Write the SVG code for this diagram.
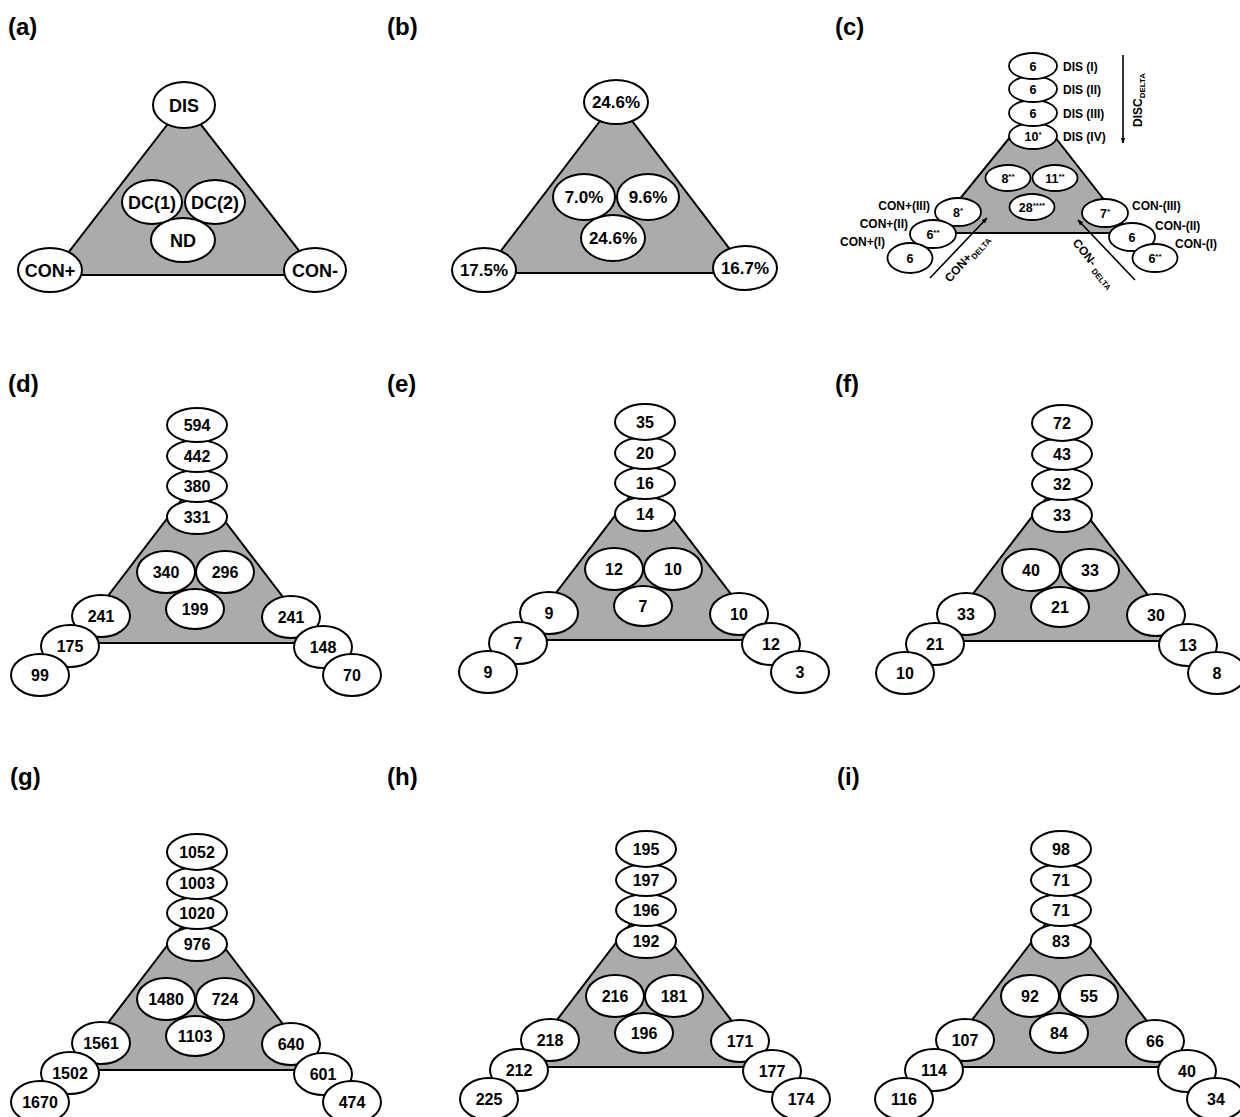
<svg xmlns="http://www.w3.org/2000/svg" width="1240" height="1117" viewBox="0 0 1240 1117">
<defs>
<style>
.tri{fill:#ababab;stroke:#000;stroke-width:2}
.n{fill:#fff;stroke:#000;stroke-width:2}
.nc{fill:#fff;stroke:#000;stroke-width:1.8}
text{font-family:"Liberation Sans",Arial,sans-serif;font-weight:bold;fill:#000}
.t{font-size:16px;text-anchor:middle}
.ta{font-size:18px;text-anchor:middle}
.tb{font-size:17px;text-anchor:middle}
.tc{font-size:12.5px;text-anchor:middle}
.cl{font-size:12px}
.cr{font-size:12px;text-anchor:end}
.lbl{font-size:24px}
.ar{stroke:#000;stroke-width:1.6;fill:none}
</style>
<marker id="ah" viewBox="0 0 10 10" refX="9" refY="5" markerWidth="6" markerHeight="6" orient="auto" markerUnits="userSpaceOnUse">
<path d="M0,1 L10,5 L0,9 z" fill="#000"/>
</marker>
</defs>
<rect width="1240" height="1117" fill="#fff"/>

<g id="labels">
<text class="lbl" x="8" y="35">(a)</text>
<text class="lbl" x="387" y="35">(b)</text>
<text class="lbl" x="835" y="35">(c)</text>
<text class="lbl" x="8" y="392">(d)</text>
<text class="lbl" x="387" y="392">(e)</text>
<text class="lbl" x="835" y="392">(f)</text>
<text class="lbl" x="10" y="785">(g)</text>
<text class="lbl" x="387" y="785">(h)</text>
<text class="lbl" x="837" y="785">(i)</text>
</g>

<!-- Panel a -->
<g id="panel-a">
<polygon class="tri" points="184,103 51,275 318,275"/>
<g id="a-nd"><ellipse class="n" cx="183" cy="240" rx="32" ry="22"/><text class="ta" x="183" y="246.5">ND</text></g>
<g id="a-dc1"><ellipse class="n" cx="152" cy="202" rx="30" ry="22"/><text class="ta" x="152" y="208.5">DC(1)</text></g>
<g id="a-dc2"><ellipse class="n" cx="215" cy="202" rx="30" ry="22"/><text class="ta" x="215" y="208.5">DC(2)</text></g>
<g id="a-dis"><ellipse class="n" cx="184" cy="105" rx="31" ry="23"/><text class="ta" x="184" y="111.5">DIS</text></g>
<g id="a-conp"><ellipse class="n" cx="50" cy="270" rx="32" ry="22"/><text class="ta" x="50" y="276.5">CON+</text></g>
<g id="a-conm"><ellipse class="n" cx="315" cy="270" rx="31" ry="22"/><text class="ta" x="315" y="276.5">CON-</text></g>
</g>

<!-- Panel b -->
<g id="panel-b">
<polygon class="tri" points="616,100 484,273 748,273"/>
<g id="b-nd"><ellipse class="n" cx="613" cy="238" rx="32" ry="23"/><text class="tb" x="613" y="244">24.6%</text></g>
<g id="b-dc1"><ellipse class="n" cx="584" cy="197" rx="31" ry="23"/><text class="tb" x="584" y="203">7.0%</text></g>
<g id="b-dc2"><ellipse class="n" cx="648" cy="197" rx="31" ry="23"/><text class="tb" x="648" y="203">9.6%</text></g>
<g id="b-dis"><ellipse class="n" cx="616" cy="102" rx="32" ry="22"/><text class="tb" x="616" y="108">24.6%</text></g>
<g id="b-conp"><ellipse class="n" cx="484" cy="270" rx="32" ry="22"/><text class="tb" x="484" y="276">17.5%</text></g>
<g id="b-conm"><ellipse class="n" cx="745" cy="268" rx="32" ry="22"/><text class="tb" x="745" y="274">16.7%</text></g>
</g>

<!-- Panel c -->
<g id="panel-c">
<polygon class="tri" points="1033,109 932,233 1130,233"/>
<g id="c-nd"><ellipse class="nc" cx="1032" cy="207" rx="22.5" ry="13"/><text class="tc" x="1032" y="211.5">28<tspan font-size="8" dy="-4">****</tspan></text></g>
<g id="c-dc1"><ellipse class="nc" cx="1008" cy="178" rx="22.5" ry="13"/><text class="tc" x="1008" y="182.5">8<tspan font-size="8" dy="-4">**</tspan></text></g>
<g id="c-dc2"><ellipse class="nc" cx="1055" cy="178" rx="22.5" ry="13"/><text class="tc" x="1055" y="182.5">11<tspan font-size="8" dy="-4">**</tspan></text></g>
<g id="c-dis4"><ellipse class="nc" cx="1033" cy="136" rx="24" ry="13"/><text class="tc" x="1033" y="140.5">10<tspan font-size="8" dy="-4">*</tspan></text></g>
<g id="c-dis3"><ellipse class="nc" cx="1033" cy="113" rx="24" ry="13"/><text class="tc" x="1033" y="117.5">6</text></g>
<g id="c-dis2"><ellipse class="nc" cx="1033" cy="89" rx="24" ry="13"/><text class="tc" x="1033" y="93.5">6</text></g>
<g id="c-dis1"><ellipse class="nc" cx="1033" cy="66" rx="24" ry="13"/><text class="tc" x="1033" y="70.5">6</text></g>
<g id="c-conp3"><ellipse class="nc" cx="958" cy="212" rx="23" ry="14"/><text class="tc" x="958" y="216.5">8<tspan font-size="8" dy="-4">*</tspan></text></g>
<g id="c-conp2"><ellipse class="nc" cx="933" cy="234" rx="23" ry="14"/><text class="tc" x="933" y="238.5">6<tspan font-size="8" dy="-4">**</tspan></text></g>
<g id="c-conp1"><ellipse class="nc" cx="910" cy="258" rx="22.5" ry="15"/><text class="tc" x="910" y="262.5">6</text></g>
<g id="c-conm3"><ellipse class="nc" cx="1105" cy="213" rx="23" ry="14"/><text class="tc" x="1105" y="217.5">7<tspan font-size="8" dy="-4">*</tspan></text></g>
<g id="c-conm2"><ellipse class="nc" cx="1132" cy="237" rx="23" ry="14"/><text class="tc" x="1132" y="241.5">6</text></g>
<g id="c-conm1"><ellipse class="nc" cx="1155" cy="258" rx="22.5" ry="14"/><text class="tc" x="1155" y="262.5">6<tspan font-size="8" dy="-4">**</tspan></text></g>
<text class="cl" x="1063" y="71">DIS (I)</text>
<text class="cl" x="1063" y="94">DIS (II)</text>
<text class="cl" x="1063" y="118">DIS (III)</text>
<text class="cl" x="1063" y="141">DIS (IV)</text>
<text class="cr" x="930" y="210">CON+(III)</text>
<text class="cr" x="908" y="228">CON+(II)</text>
<text class="cr" x="885" y="246">CON+(I)</text>
<text class="cl" x="1132" y="210">CON-(III)</text>
<text class="cl" x="1155" y="230">CON-(II)</text>
<text class="cl" x="1175" y="248">CON-(I)</text>
<text class="cl" x="1142" y="127" transform="rotate(-90 1142 127)">DISC<tspan font-size="8" dy="3">DELTA</tspan></text>
<text class="cl" x="950" y="283" transform="rotate(-48 950 283)">CON+<tspan font-size="8" dy="3">DELTA</tspan></text>
<text class="cl" x="1072" y="243" transform="rotate(51 1072 243)">CON- <tspan font-size="8" dy="3">DELTA</tspan></text>
</g>

<g id="connectors">
<line class="ar" x1="1123" y1="55" x2="1123" y2="143" marker-end="url(#ah)"/>
<line class="ar" x1="930" y1="278" x2="987" y2="218" marker-end="url(#ah)"/>
<line class="ar" x1="1135" y1="280" x2="1078" y2="220" marker-end="url(#ah)"/>
</g>

<!-- Panel d -->
<g id="panel-d" transform="translate(197,425)">
<polygon class="tri" points="-2,57 -125,218 121,218"/>
<g id="d-c3"><ellipse class="n" cx="-2" cy="184" rx="29" ry="20"/><text class="t" x="-2" y="189.5">199</text></g>
<g id="d-c1"><ellipse class="n" cx="-31" cy="147" rx="29" ry="21"/><text class="t" x="-31" y="152.5">340</text></g>
<g id="d-c2"><ellipse class="n" cx="28" cy="147" rx="29" ry="21"/><text class="t" x="28" y="152.5">296</text></g>
<g id="d-s4"><ellipse class="n" cx="0" cy="92" rx="30" ry="17"/><text class="t" x="0" y="97.5">331</text></g>
<g id="d-s3"><ellipse class="n" cx="0" cy="61" rx="30" ry="16"/><text class="t" x="0" y="66.5">380</text></g>
<g id="d-s2"><ellipse class="n" cx="0" cy="31" rx="30" ry="16"/><text class="t" x="0" y="36.5">442</text></g>
<g id="d-s1"><ellipse class="n" cx="0" cy="0" rx="30" ry="17"/><text class="t" x="0" y="5.5">594</text></g>
<g id="d-l1"><ellipse class="n" cx="-96" cy="191" rx="29" ry="21"/><text class="t" x="-96" y="196.5">241</text></g>
<g id="d-l2"><ellipse class="n" cx="-127" cy="221" rx="29" ry="21"/><text class="t" x="-127" y="226.5">175</text></g>
<g id="d-l3"><ellipse class="n" cx="-157" cy="250" rx="29" ry="21"/><text class="t" x="-157" y="255.5">99</text></g>
<g id="d-r1"><ellipse class="n" cx="94" cy="192" rx="29" ry="21"/><text class="t" x="94" y="197.5">241</text></g>
<g id="d-r2"><ellipse class="n" cx="126" cy="222" rx="29" ry="21"/><text class="t" x="126" y="227.5">148</text></g>
<g id="d-r3"><ellipse class="n" cx="155" cy="250" rx="29" ry="21"/><text class="t" x="155" y="255.5">70</text></g>
</g>

<!-- Panel e -->
<g id="panel-e" transform="translate(645,422)">
<polygon class="tri" points="-2,57 -125,218 121,218"/>
<g id="e-c3"><ellipse class="n" cx="-2" cy="184" rx="29" ry="20"/><text class="t" x="-2" y="189.5">7</text></g>
<g id="e-c1"><ellipse class="n" cx="-31" cy="147" rx="29" ry="21"/><text class="t" x="-31" y="152.5">12</text></g>
<g id="e-c2"><ellipse class="n" cx="28" cy="147" rx="29" ry="21"/><text class="t" x="28" y="152.5">10</text></g>
<g id="e-s4"><ellipse class="n" cx="0" cy="92" rx="30" ry="17"/><text class="t" x="0" y="97.5">14</text></g>
<g id="e-s3"><ellipse class="n" cx="0" cy="61" rx="30" ry="16"/><text class="t" x="0" y="66.5">16</text></g>
<g id="e-s2"><ellipse class="n" cx="0" cy="31" rx="30" ry="16"/><text class="t" x="0" y="36.5">20</text></g>
<g id="e-s1"><ellipse class="n" cx="0" cy="0" rx="30" ry="18"/><text class="t" x="0" y="5.5">35</text></g>
<g id="e-l1"><ellipse class="n" cx="-96" cy="191" rx="29" ry="21"/><text class="t" x="-96" y="196.5">9</text></g>
<g id="e-l2"><ellipse class="n" cx="-127" cy="221" rx="29" ry="21"/><text class="t" x="-127" y="226.5">7</text></g>
<g id="e-l3"><ellipse class="n" cx="-157" cy="250" rx="29" ry="21"/><text class="t" x="-157" y="255.5">9</text></g>
<g id="e-r1"><ellipse class="n" cx="94" cy="192" rx="29" ry="21"/><text class="t" x="94" y="197.5">10</text></g>
<g id="e-r2"><ellipse class="n" cx="126" cy="222" rx="29" ry="21"/><text class="t" x="126" y="227.5">12</text></g>
<g id="e-r3"><ellipse class="n" cx="155" cy="250" rx="29" ry="21"/><text class="t" x="155" y="255.5">3</text></g>
</g>

<!-- Panel f -->
<g id="panel-f" transform="translate(1062,423)">
<polygon class="tri" points="-2,57 -125,218 121,218"/>
<g id="f-c3"><ellipse class="n" cx="-2" cy="184" rx="29" ry="20"/><text class="t" x="-2" y="189.5">21</text></g>
<g id="f-c1"><ellipse class="n" cx="-31" cy="147" rx="29" ry="21"/><text class="t" x="-31" y="152.5">40</text></g>
<g id="f-c2"><ellipse class="n" cx="28" cy="147" rx="29" ry="21"/><text class="t" x="28" y="152.5">33</text></g>
<g id="f-s4"><ellipse class="n" cx="0" cy="92" rx="30" ry="17"/><text class="t" x="0" y="97.5">33</text></g>
<g id="f-s3"><ellipse class="n" cx="0" cy="61" rx="30" ry="16"/><text class="t" x="0" y="66.5">32</text></g>
<g id="f-s2"><ellipse class="n" cx="0" cy="31" rx="30" ry="16"/><text class="t" x="0" y="36.5">43</text></g>
<g id="f-s1"><ellipse class="n" cx="0" cy="0" rx="30" ry="18"/><text class="t" x="0" y="5.5">72</text></g>
<g id="f-l1"><ellipse class="n" cx="-96" cy="191" rx="29" ry="21"/><text class="t" x="-96" y="196.5">33</text></g>
<g id="f-l2"><ellipse class="n" cx="-127" cy="221" rx="29" ry="21"/><text class="t" x="-127" y="226.5">21</text></g>
<g id="f-l3"><ellipse class="n" cx="-157" cy="250" rx="29" ry="21"/><text class="t" x="-157" y="255.5">10</text></g>
<g id="f-r1"><ellipse class="n" cx="94" cy="192" rx="29" ry="21"/><text class="t" x="94" y="197.5">30</text></g>
<g id="f-r2"><ellipse class="n" cx="126" cy="222" rx="29" ry="21"/><text class="t" x="126" y="227.5">13</text></g>
<g id="f-r3"><ellipse class="n" cx="155" cy="250" rx="29" ry="21"/><text class="t" x="155" y="255.5">8</text></g>
</g>

<!-- Panel g -->
<g id="panel-g" transform="translate(197,852)">
<polygon class="tri" points="-2,57 -125,218 121,218"/>
<g id="g-c3"><ellipse class="n" cx="-2" cy="184" rx="29" ry="20"/><text class="t" x="-2" y="189.5">1103</text></g>
<g id="g-c1"><ellipse class="n" cx="-31" cy="147" rx="29" ry="21"/><text class="t" x="-31" y="152.5">1480</text></g>
<g id="g-c2"><ellipse class="n" cx="28" cy="147" rx="29" ry="21"/><text class="t" x="28" y="152.5">724</text></g>
<g id="g-s4"><ellipse class="n" cx="0" cy="92" rx="30" ry="17"/><text class="t" x="0" y="97.5">976</text></g>
<g id="g-s3"><ellipse class="n" cx="0" cy="61" rx="30" ry="16"/><text class="t" x="0" y="66.5">1020</text></g>
<g id="g-s2"><ellipse class="n" cx="0" cy="31" rx="30" ry="16"/><text class="t" x="0" y="36.5">1003</text></g>
<g id="g-s1"><ellipse class="n" cx="0" cy="0" rx="30" ry="18"/><text class="t" x="0" y="5.5">1052</text></g>
<g id="g-l1"><ellipse class="n" cx="-96" cy="191" rx="29" ry="21"/><text class="t" x="-96" y="196.5">1561</text></g>
<g id="g-l2"><ellipse class="n" cx="-127" cy="221" rx="29" ry="21"/><text class="t" x="-127" y="226.5">1502</text></g>
<g id="g-l3"><ellipse class="n" cx="-157" cy="250" rx="29" ry="21"/><text class="t" x="-157" y="255.5">1670</text></g>
<g id="g-r1"><ellipse class="n" cx="94" cy="192" rx="29" ry="21"/><text class="t" x="94" y="197.5">640</text></g>
<g id="g-r2"><ellipse class="n" cx="126" cy="222" rx="29" ry="21"/><text class="t" x="126" y="227.5">601</text></g>
<g id="g-r3"><ellipse class="n" cx="155" cy="250" rx="29" ry="21"/><text class="t" x="155" y="255.5">474</text></g>
</g>

<!-- Panel h -->
<g id="panel-h" transform="translate(646,849)">
<polygon class="tri" points="-2,57 -125,218 121,218"/>
<g id="h-c3"><ellipse class="n" cx="-2" cy="184" rx="29" ry="20"/><text class="t" x="-2" y="189.5">196</text></g>
<g id="h-c1"><ellipse class="n" cx="-31" cy="147" rx="29" ry="21"/><text class="t" x="-31" y="152.5">216</text></g>
<g id="h-c2"><ellipse class="n" cx="28" cy="147" rx="29" ry="21"/><text class="t" x="28" y="152.5">181</text></g>
<g id="h-s4"><ellipse class="n" cx="0" cy="92" rx="30" ry="17"/><text class="t" x="0" y="97.5">192</text></g>
<g id="h-s3"><ellipse class="n" cx="0" cy="61" rx="30" ry="16"/><text class="t" x="0" y="66.5">196</text></g>
<g id="h-s2"><ellipse class="n" cx="0" cy="31" rx="30" ry="16"/><text class="t" x="0" y="36.5">197</text></g>
<g id="h-s1"><ellipse class="n" cx="0" cy="0" rx="30" ry="18"/><text class="t" x="0" y="5.5">195</text></g>
<g id="h-l1"><ellipse class="n" cx="-96" cy="191" rx="29" ry="21"/><text class="t" x="-96" y="196.5">218</text></g>
<g id="h-l2"><ellipse class="n" cx="-127" cy="221" rx="29" ry="21"/><text class="t" x="-127" y="226.5">212</text></g>
<g id="h-l3"><ellipse class="n" cx="-157" cy="250" rx="29" ry="21"/><text class="t" x="-157" y="255.5">225</text></g>
<g id="h-r1"><ellipse class="n" cx="94" cy="192" rx="29" ry="21"/><text class="t" x="94" y="197.5">171</text></g>
<g id="h-r2"><ellipse class="n" cx="126" cy="222" rx="29" ry="21"/><text class="t" x="126" y="227.5">177</text></g>
<g id="h-r3"><ellipse class="n" cx="155" cy="250" rx="29" ry="21"/><text class="t" x="155" y="255.5">174</text></g>
</g>

<!-- Panel i -->
<g id="panel-i" transform="translate(1061,849)">
<polygon class="tri" points="-2,57 -125,218 121,218"/>
<g id="i-c3"><ellipse class="n" cx="-2" cy="184" rx="29" ry="20"/><text class="t" x="-2" y="189.5">84</text></g>
<g id="i-c1"><ellipse class="n" cx="-31" cy="147" rx="29" ry="21"/><text class="t" x="-31" y="152.5">92</text></g>
<g id="i-c2"><ellipse class="n" cx="28" cy="147" rx="29" ry="21"/><text class="t" x="28" y="152.5">55</text></g>
<g id="i-s4"><ellipse class="n" cx="0" cy="92" rx="30" ry="17"/><text class="t" x="0" y="97.5">83</text></g>
<g id="i-s3"><ellipse class="n" cx="0" cy="61" rx="30" ry="16"/><text class="t" x="0" y="66.5">71</text></g>
<g id="i-s2"><ellipse class="n" cx="0" cy="31" rx="30" ry="16"/><text class="t" x="0" y="36.5">71</text></g>
<g id="i-s1"><ellipse class="n" cx="0" cy="0" rx="30" ry="18"/><text class="t" x="0" y="5.5">98</text></g>
<g id="i-l1"><ellipse class="n" cx="-96" cy="191" rx="29" ry="21"/><text class="t" x="-96" y="196.5">107</text></g>
<g id="i-l2"><ellipse class="n" cx="-127" cy="221" rx="29" ry="21"/><text class="t" x="-127" y="226.5">114</text></g>
<g id="i-l3"><ellipse class="n" cx="-157" cy="250" rx="29" ry="21"/><text class="t" x="-157" y="255.5">116</text></g>
<g id="i-r1"><ellipse class="n" cx="94" cy="192" rx="29" ry="21"/><text class="t" x="94" y="197.5">66</text></g>
<g id="i-r2"><ellipse class="n" cx="126" cy="222" rx="29" ry="21"/><text class="t" x="126" y="227.5">40</text></g>
<g id="i-r3"><ellipse class="n" cx="155" cy="250" rx="29" ry="21"/><text class="t" x="155" y="255.5">34</text></g>
</g>
</svg>
